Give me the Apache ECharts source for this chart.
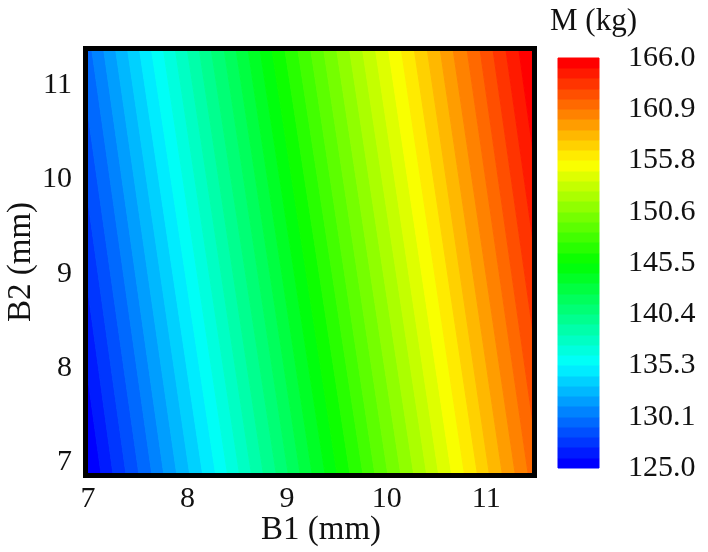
<!DOCTYPE html>
<html>
<head>
<meta charset="utf-8">
<script src="https://cdn.jsdelivr.net/npm/echarts@6/dist/echarts.min.js"></script>
<style>
  html, body { margin: 0; padding: 0; background: #fff; }
  #chart { width: 708px; height: 552px; }
</style>
</head>
<body>
<div id="chart"></div>
<script>
// tick labels
var b1Ticks = [7, 8, 9, 10, 11];
var b2Ticks = [7, 8, 9, 10, 11];
var cbTicks = [125.0, 130.1, 135.3, 140.4, 145.5, 150.6, 155.8, 160.9, 166.0];

// contour levels of M (kg), 40 bands
var levels = [125.0, 126.0, 127.1, 128.1, 129.1, 130.1, 131.2, 132.2, 133.2, 134.2,
  135.3, 136.3, 137.3, 138.3, 139.4, 140.4, 141.4, 142.4, 143.5, 144.5,
  145.5, 146.5, 147.6, 148.6, 149.6, 150.6, 151.7, 152.7, 153.7, 154.7,
  155.8, 156.8, 157.8, 158.8, 159.9, 160.9, 161.9, 162.9, 164.0, 165.0, 166.0];

// where each contour line crosses the bottom / top edge (B1, mm)
var b1AtBottom = [7.00, 7.13, 7.25, 7.38, 7.51, 7.64, 7.76, 7.89, 8.02, 8.15,
  8.28, 8.40, 8.52, 8.64, 8.76, 8.89, 9.01, 9.13, 9.25, 9.38,
  9.50, 9.63, 9.76, 9.88, 10.01, 10.14, 10.27, 10.40, 10.52, 10.65,
  10.78, 10.91, 11.03, 11.16, 11.29, 11.42, 11.54, 11.67, 11.80, 11.92, 12.05];
var b1AtTop = [6.43, 6.55, 6.67, 6.79, 6.91, 7.04, 7.16, 7.28, 7.40, 7.52,
  7.64, 7.76, 7.88, 8.00, 8.12, 8.24, 8.37, 8.49, 8.61, 8.73,
  8.85, 8.98, 9.11, 9.24, 9.37, 9.50, 9.63, 9.76, 9.89, 10.02,
  10.15, 10.28, 10.41, 10.54, 10.67, 10.81, 10.94, 11.07, 11.20, 11.33, 11.46];

var b1Range = [7, 11.46];
var b2Range = [6.89, 11.36];

var font = '"Liberation Serif", "Times New Roman", serif';
var rainbow = ['#0000ff', '#00ffff', '#00ff00', '#ffff00', '#ff0000'];

var bands = [], cbBands = [];
for (var k = 0; k < levels.length - 1; k++) {
  var mid = (levels[k] + levels[k + 1]) / 2;
  bands.push([mid, b1AtBottom[k], b1AtBottom[k + 1], b1AtTop[k], b1AtTop[k + 1]]);
  cbBands.push([mid, levels[k], levels[k + 1]]);
}

function renderBand(params, api) {
  var c = api.visual('color');
  var pts = [
    api.coord([api.value(1), b2Range[0]]),
    api.coord([api.value(2), b2Range[0]]),
    api.coord([api.value(4), b2Range[1]]),
    api.coord([api.value(3), b2Range[1]])
  ];
  return {
    type: 'polygon',
    shape: { points: pts },
    style: { fill: c, stroke: c, lineWidth: 1 }
  };
}

function renderCb(params, api) {
  var c = api.visual('color');
  var p0 = api.coord([0, api.value(2)]);
  var p1 = api.coord([1, api.value(1)]);
  return {
    type: 'rect',
    shape: { x: p0[0], y: p0[1], width: p1[0] - p0[0], height: p1[1] - p0[1] },
    style: { fill: c, stroke: c, lineWidth: 1 }
  };
}

var chart = echarts.init(document.getElementById('chart'));
chart.setOption({
  backgroundColor: '#fff',
  animation: false,
  title: {
    text: 'M (kg)',
    left: 545,
    top: 1,
    textStyle: { fontFamily: font, fontSize: 31, fontWeight: 'normal', color: '#111' }
  },
  grid: [
    { left: 88, right: 176, top: 51, bottom: 79, outerBoundsMode: 'none' },
    { left: 558, width: 41, top: 58, height: 410, outerBoundsMode: 'none' }
  ],
  xAxis: [{
    type: 'value',
    min: b1Range[0],
    max: b1Range[1],
    name: 'B1 (mm)',
    nameLocation: 'middle',
    nameGap: 41,
    nameMoveOverlap: false,
    nameTextStyle: { fontFamily: font, fontSize: 33, color: '#111', padding: [0, 0, 0, 22] },
    axisLine: { show: false },
    axisTick: { show: false },
    splitLine: { show: false },
    axisLabel: {
      customValues: b1Ticks,
      margin: 11,
      fontFamily: font,
      fontSize: 30,
      color: '#111'
    }
  }, {
    gridIndex: 1,
    type: 'value',
    min: 0,
    max: 1,
    show: false
  }],
  yAxis: [{
    type: 'value',
    min: b2Range[0],
    max: b2Range[1],
    name: 'B2 (mm)',
    nameLocation: 'middle',
    nameGap: 50,
    nameMoveOverlap: false,
    nameTextStyle: { fontFamily: font, fontSize: 33, color: '#111' },
    axisLine: { show: false },
    axisTick: { show: false },
    splitLine: { show: false },
    axisLabel: {
      customValues: b2Ticks,
      margin: 16,
      fontFamily: font,
      fontSize: 30,
      color: '#111'
    }
  }, {
    gridIndex: 1,
    type: 'value',
    position: 'right',
    min: 125,
    max: 166,
    axisLine: { show: false },
    axisTick: { show: false },
    splitLine: { show: false },
    axisLabel: {
      customValues: cbTicks,
      formatter: function (v) { return v.toFixed(1); },
      margin: 29,
      fontFamily: font,
      fontSize: 30,
      color: '#111'
    }
  }],
  visualMap: {
    type: 'continuous',
    show: false,
    min: (levels[0] + levels[1]) / 2,
    max: (levels[levels.length - 2] + levels[levels.length - 1]) / 2,
    dimension: 0,
    seriesIndex: [0, 1],
    inRange: { color: rainbow }
  },
  series: [{
    type: 'custom',
    clip: true,
    xAxisIndex: 0,
    yAxisIndex: 0,
    renderItem: renderBand,
    data: bands
  }, {
    type: 'custom',
    xAxisIndex: 1,
    yAxisIndex: 1,
    renderItem: renderCb,
    data: cbBands
  }],
  graphic: [{
    type: 'rect',
    z: 100,
    shape: { x: 85.5, y: 48.5, width: 449, height: 427 },
    style: { fill: null, stroke: '#000', lineWidth: 5 }
  }]
});
</script>
</body>
</html>
